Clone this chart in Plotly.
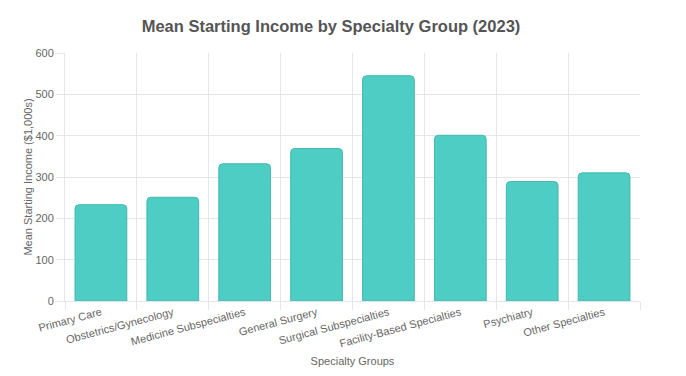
import plotly.graph_objects as go

categories = ["Primary Care", "Obstetrics/Gynecology", "Medicine Subspecialties", "General Surgery",
              "Surgical Subspecialties", "Facility-Based Specialties", "Psychiatry", "Other Specialties"]
income = [233, 251, 332, 369, 545, 401, 289, 310]
y_ticks = [0, 100, 200, 300, 400, 500, 600]

grid = "#e6e6e6"
font = "Liberation Sans, Arial, sans-serif"

# page body has an 8px default margin, so figure is offset by 8px
fig = go.Figure(go.Bar(
    x=categories, y=income,
    marker=dict(color="#4ECDC4", line=dict(color="#45b7ae", width=1), cornerradius=4),
    width=0.72,
))

fig.update_layout(
    width=678, height=368,
    margin=dict(l=57, r=46, t=45, b=75),
    paper_bgcolor="white", plot_bgcolor="white",
    font=dict(family=font, size=12, color="#666"),
    showlegend=False,
    title=dict(text="<b>Mean Starting Income by Specialty Group (2023)</b>",
               x=0.4626, xref="paper", xanchor="center",
               y=0.951, yref="container", yanchor="middle",
               font=dict(family=font, size=16.5, color="#555")),
)
fig.update_xaxes(
    tickangle=-15, tickson="boundaries", showgrid=True, gridcolor=grid, gridwidth=1,
    ticks="outside", ticklen=8, tickcolor=grid,
    showline=True, linecolor=grid,
    tickfont=dict(size=11, color="#666"),
    title=dict(text="Specialty Groups", font=dict(size=11, color="#666"), standoff=8),
    automargin=False,
)
fig.update_yaxes(
    range=[0, 600], tickvals=y_ticks, showgrid=True, gridcolor=grid,
    ticks="outside", ticklen=8, tickcolor=grid,
    showline=True, linecolor=grid, zeroline=False,
    tickfont=dict(size=11, color="#666"),
    title=dict(text="Mean Starting Income ($1,000s)", font=dict(size=11, color="#666"), standoff=0),
    automargin=False,
)

fig.write_html("out.html")
